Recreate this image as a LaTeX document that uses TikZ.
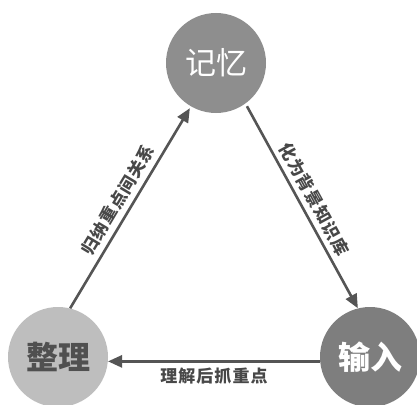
\documentclass[tikz,border=0pt]{standalone}
\usepackage{fontspec}
\usetikzlibrary{arrows.meta}
\newfontfamily\cjk{Noto Sans CJK SC}
\newfontfamily\cjklab[LetterSpace=6]{Noto Sans CJK SC}
\definecolor{linegray}{HTML}{555555}
\definecolor{memgray}{HTML}{8E8E8E}
\definecolor{ingray}{HTML}{7E7E7E}
\definecolor{orggray}{HTML}{BEBEBE}
\definecolor{orgtext}{HTML}{505050}
\tikzset{
  bubble/.style={circle, minimum size=100pt, inner sep=0pt, font=\cjk\fontsize{31}{31}\selectfont},
  flow/.style={draw=linegray, line width=2.6pt, -{Triangle[length=14pt,width=12pt]}},
  lab/.style={font=\cjklab\bfseries\fontsize{17}{17}\selectfont, text=linegray!85!black, inner sep=1pt}
}
\begin{document}
\begin{tikzpicture}[x=1pt,y=-1pt]
\useasboundingbox (0,0) rectangle (417,404);
\fill[white] (0,0) rectangle (417,404);
\node[bubble, fill=memgray, text=white] (A) at (216,63) {记忆};
\node[bubble, fill=ingray, text=white, font=\cjk\bfseries\fontsize{32}{32}\selectfont] (B) at (370,357) {输入};
\node[bubble, fill=orggray, text=orgtext, font=\cjk\bfseries\fontsize{32}{32}\selectfont] (C) at (58,357) {整理};
\draw[flow, shorten <=3pt] (A.-54) -- node[lab, midway, sloped, above=4pt] {化为背景知识库} (B.104);
\draw[flow] (B.185) -- node[lab, midway, below=4pt] {理解后抓重点} (C.-5);
\draw[flow, shorten >=2pt] (C.76) -- node[lab, midway, sloped, above=4pt] {归纳重点间关系} (A.-120);
\end{tikzpicture}
\end{document}
